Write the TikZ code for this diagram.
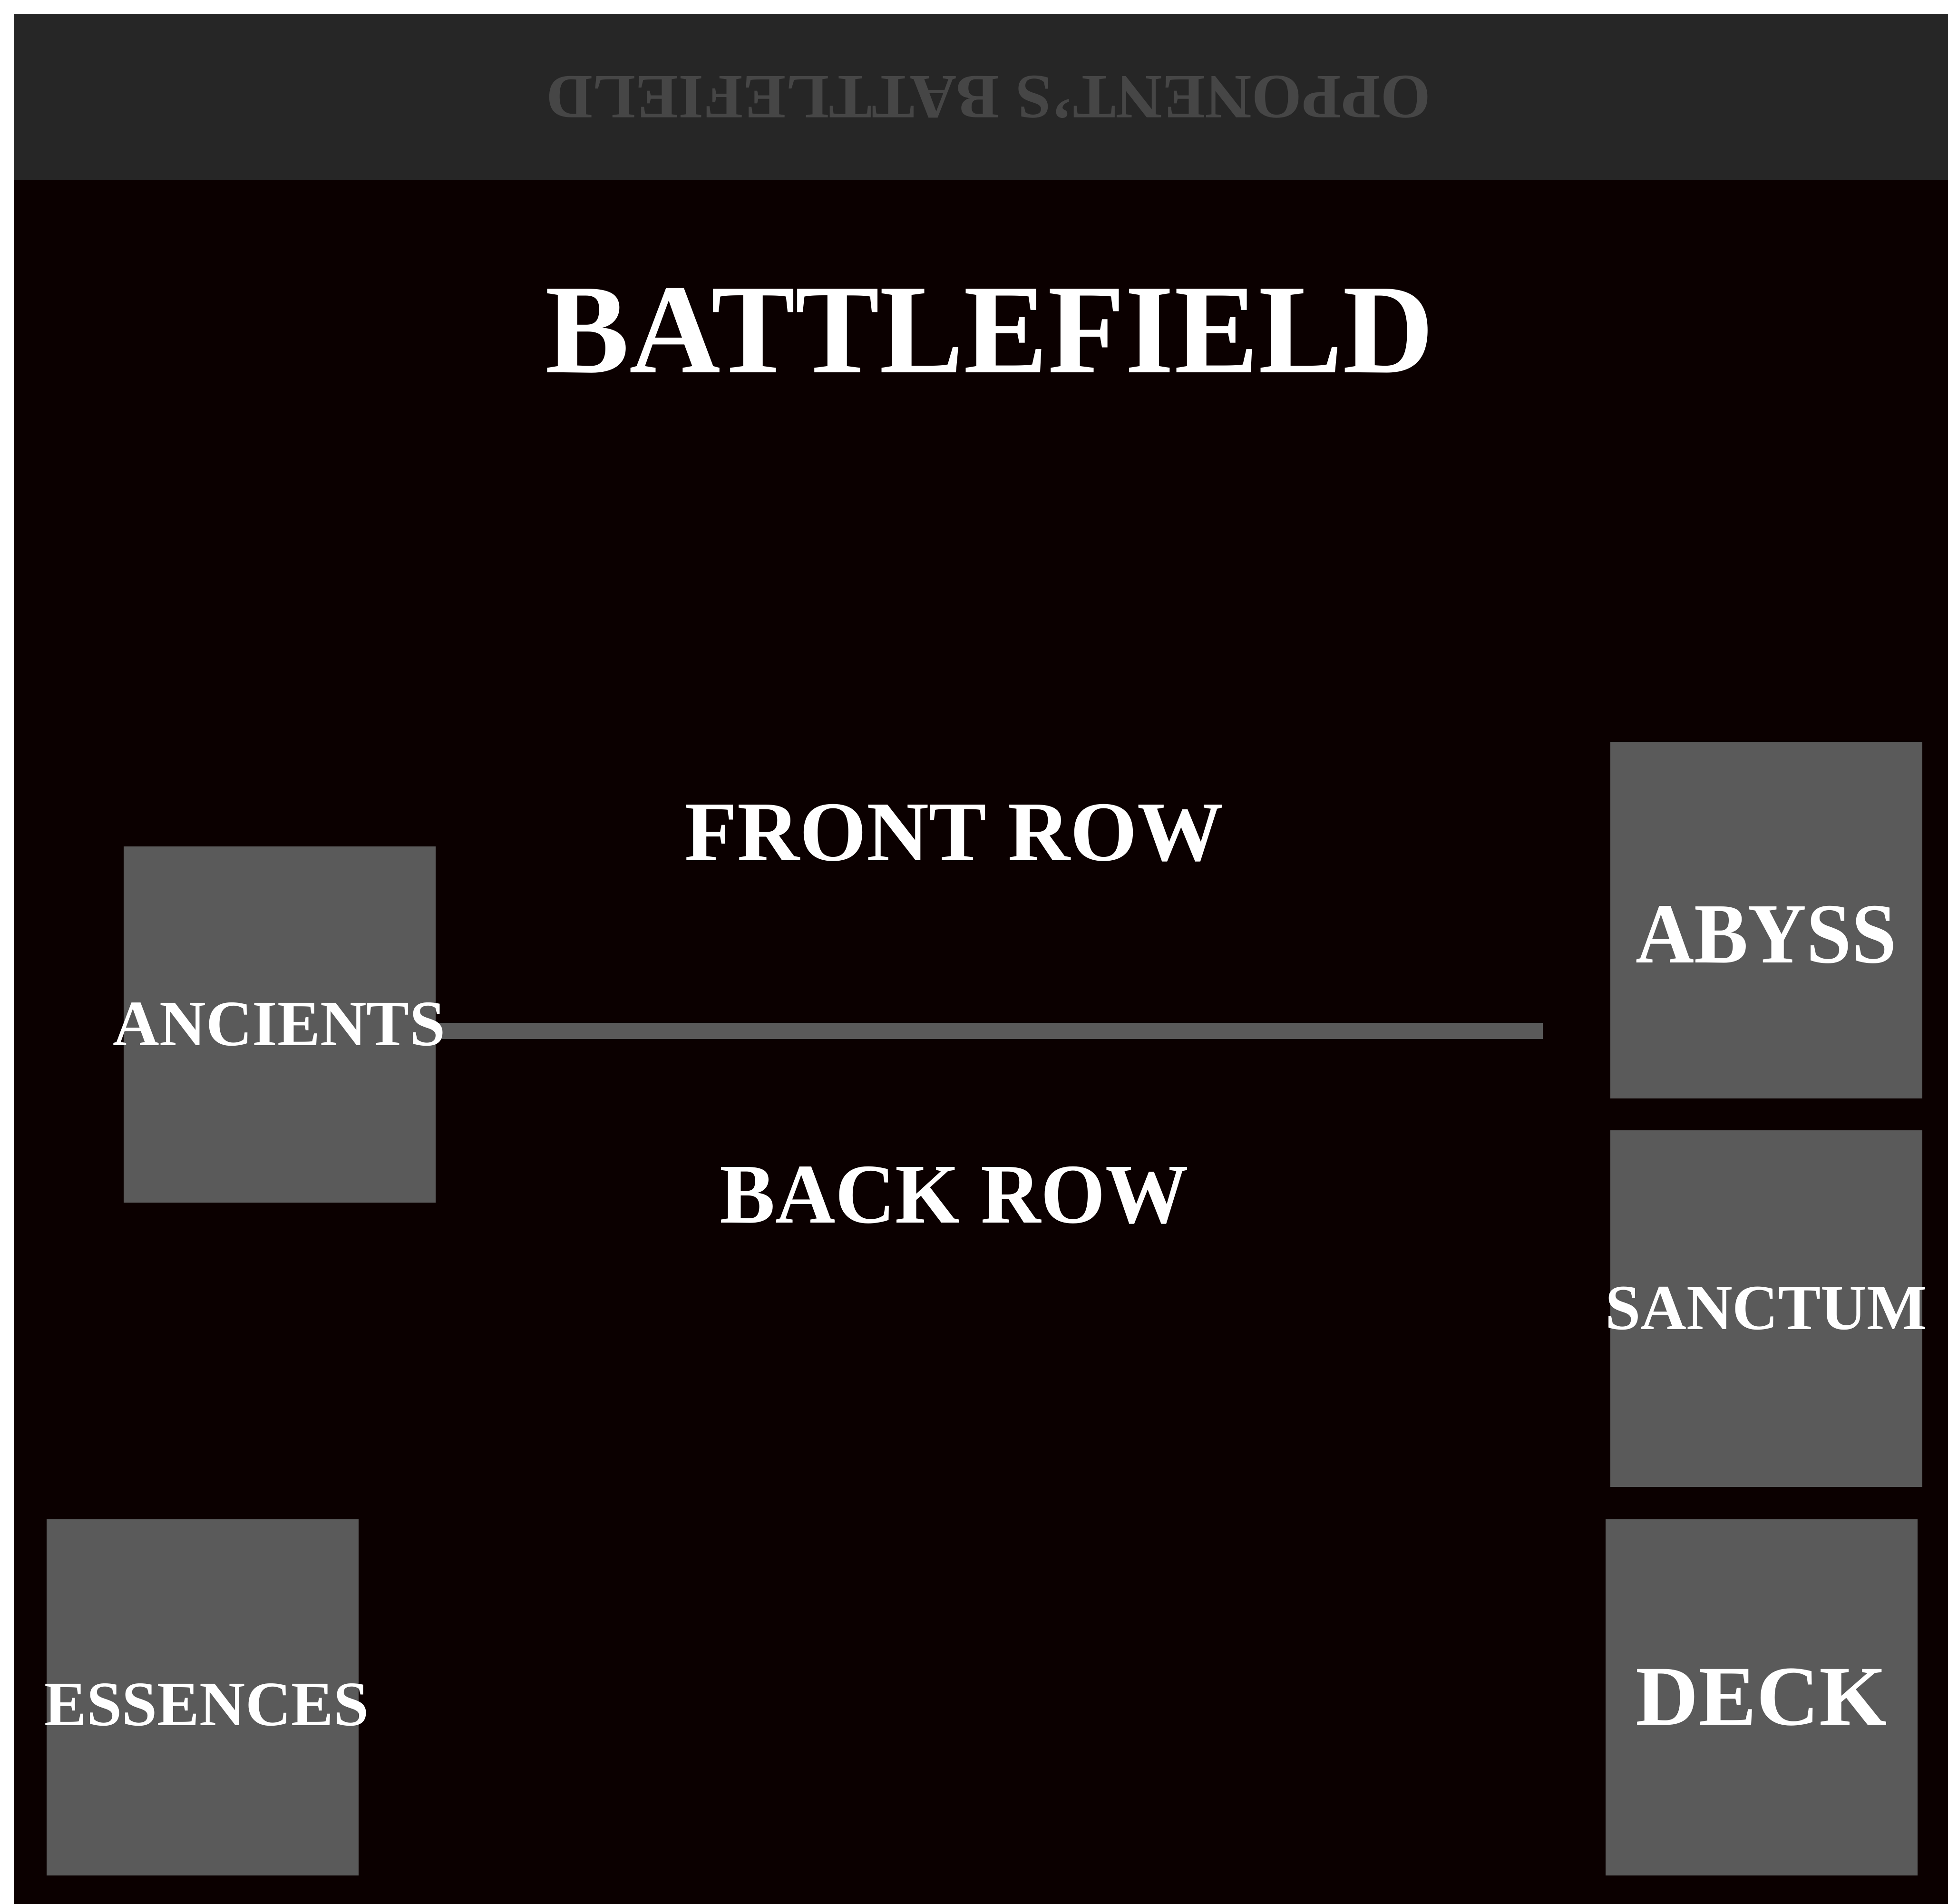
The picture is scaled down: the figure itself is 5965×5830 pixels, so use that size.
\documentclass[tikz,border=0pt]{standalone}
\usepackage{fontspec}
\setmainfont{Liberation Serif}
\usepackage{graphicx}
\definecolor{fieldbg}{RGB}{11,0,0}
\definecolor{bannergray}{RGB}{38,38,38}
\definecolor{zonegray}{RGB}{90,90,90}
\definecolor{oppgray}{RGB}{70,70,70}
\newcommand\fittext[3]{\resizebox*{#1cm}{#2cm}{\bfseries #3}}
\begin{document}
\begin{tikzpicture}[x=0.01cm,y=-0.01cm,
  zone/.style={fill=zonegray, draw=none, inner sep=0pt, minimum width=9.55cm, minimum height=10.91cm},
  zonetext/.style={text=white, inner sep=0pt, anchor=center},
  barline/.style={draw=zonegray, line width=0.49cm, line cap=butt}]
\useasboundingbox (0,0) rectangle (5965,5830);
\fill[white] (0,0) rectangle (5965,5830);
\fill[fieldbg] (42,42) rectangle (6020,5880);
\fill[bannergray] (42,42) rectangle (6020,550);

% zones
\node[zone] (ancients) at (856.5,3137.5) {};
\node[zone] (abyss) at (5409,2817.5) {};
\node[zone] (sanctum) at (5409,4007.5) {};
\node[zone] (deck) at (5394,5198) {};
\node[zone] (essences) at (620,5198) {};

% row divider
\coordinate (barend) at (4724,3157);
\draw[barline] (ancients.east |- barend) -- (barend);

% texts
\node[zonetext, text=oppgray, rotate=180] (opp) at (3027,297) {\fittext{27.07}{1.30}{OPPONENT’S BATTLEFIELD}};
\node[zonetext] (title) at (3030,1012) {\fittext{27.19}{2.59}{BATTLEFIELD}};
\node[zonetext] (front) at (2922,2551) {\fittext{16.49}{1.76}{FRONT ROW}};
\node[zonetext] (back) at (2922,3661) {\fittext{14.34}{1.76}{BACK ROW}};
\node[zonetext] (ancientstext) at (855,3137) {\fittext{10.16}{1.33}{ANCIENTS}};
\node[zonetext] (abysstext) at (5408,2863) {\fittext{7.99}{1.76}{ABYSS}};
\node[zonetext] (sanctumtext) at (5408,4007) {\fittext{9.85}{1.32}{SANCTUM}};
\node[zonetext] (decktext) at (5394,5198) {\fittext{7.70}{1.75}{DECK}};
\node[zonetext] (essencestext) at (633,5221) {\fittext{9.92}{1.30}{ESSENCES}};
\end{tikzpicture}
\end{document}
